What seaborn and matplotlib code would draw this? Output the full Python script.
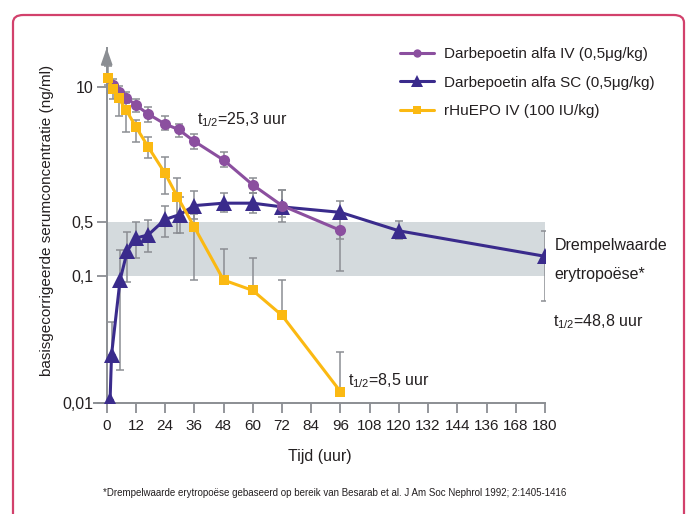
import numpy as np
import matplotlib
matplotlib.use("Agg")
import matplotlib.pyplot as plt
from matplotlib.patches import FancyBboxPatch
import seaborn as sns

sns.set_style("white")
plt.rcParams["font.family"] = ["Liberation Sans", "DejaVu Sans"]
plt.rcParams["mathtext.fontset"] = "custom"
plt.rcParams["mathtext.rm"] = "Liberation Sans"
plt.rcParams["mathtext.default"] = "regular"

# -----------------------------------------------------------
# data (ng/ml)
# -----------------------------------------------------------
t_iv = [2.5, 5, 8, 12, 17, 24, 29.5, 36, 48, 60, 72, 96]
c_iv = [10.4, 9.0, 7.9, 6.7, 5.5, 4.4, 3.9, 3.0, 1.98, 1.14, 0.72, 0.39]
lo_iv = [9.15, 8.0, 7.0, 5.74, 4.63, 3.86, 3.32, 2.52, 1.71, 0.95, 0.56, 0.116]
hi_iv = [11.9, 10.2, 8.95, 7.66, 6.46, 5.26, 4.37, 3.52, 2.35, 1.34, 1.02, 0.39]

t_sc = [1.4, 2, 5.5, 8.5, 12, 17, 24, 30, 36, 48, 60, 72, 96, 120, 180]
c_sc = [0.0106, 0.024, 0.093, 0.213, 0.31, 0.34, 0.53, 0.59, 0.72, 0.76, 0.76, 0.70, 0.62, 0.385, 0.18]
lo_sc = [0.0106, 0.024, 0.0182, 0.090, 0.169, 0.207, 0.317, 0.357, 0.53, 0.63, 0.61, 0.50, 0.30, 0.30, 0.0635]
hi_sc = [0.0106, 0.0435, 0.217, 0.374, 0.495, 0.52, 0.72, 0.87, 1.0, 0.95, 0.95, 1.02, 0.80, 0.515, 0.38]

t_epo = [0.5, 2.5, 5, 8, 12, 17, 24, 29, 36, 48, 60, 72, 96]
c_epo = [12.3, 9.5, 7.8, 6.0, 4.14, 2.66, 1.47, 0.88, 0.43, 0.093, 0.077, 0.049, 0.0123]
lo_epo = [10.5, 7.6, 5.26, 3.71, 2.97, 2.06, 0.925, 0.357, 0.093, 0.093, 0.077, 0.049, 0.0123]
hi_epo = [15.9, 11.2, 9.0, 7.0, 4.81, 3.32, 2.10, 1.34, 0.6, 0.222, 0.169, 0.093, 0.0254]

labels = ["Darbepoetin alfa IV (0,5\u03bcg/kg)",
          "Darbepoetin alfa SC (0,5\u03bcg/kg)",
          "rHuEPO IV (100 IU/kg)"]

band = (0.1, 0.5)  # drempelwaarde erytropoese
x_ticks = list(range(0, 181, 12))
x_ticklabels = ["0", "12", "24", "36", "48", "60", "72", "84", "96", "108",
                "120", "132", "144", "136", "168", "180"]
y_ticks = [0.01, 0.1, 0.5, 10]
y_ticklabels = ["0,01", "0,1", "0,5", "10"]

# -----------------------------------------------------------
# broken log-like axis of the original (each segment its own stretch)
# -----------------------------------------------------------
KL = np.log10([0.01, 0.1, 0.5, 10])
KU = np.array([0.0, 127.0, 181.0, 316.0])


def fwd(v):
    L = np.log10(np.clip(np.asarray(v, dtype=float), 1e-9, None))
    u = np.interp(L, KL, KU)
    u = np.where(L > KL[-1], KU[-1] + (L - KL[-1]) * (KU[-1] - KU[-2]) / (KL[-1] - KL[-2]), u)
    u = np.where(L < KL[0], (L - KL[0]) * (KU[1] - KU[0]) / (KL[1] - KL[0]), u)
    return u


def inv(u):
    u = np.asarray(u, dtype=float)
    L = np.interp(u, KU, KL)
    L = np.where(u > KU[-1], KL[-1] + (u - KU[-1]) * (KL[-1] - KL[-2]) / (KU[-1] - KU[-2]), L)
    L = np.where(u < KU[0], KL[0] + u * (KL[1] - KL[0]) / (KU[1] - KU[0]), L)
    return 10 ** L


GRAY = "#8b8e93"
TXT = "#231f20"
C_IV = "#8b4f9f"
C_SC = "#3a2b8c"
C_EPO = "#fbb912"
FS = 11.5

fig = plt.figure(figsize=(6.89, 5.14), dpi=100)
ax = fig.add_axes([94.5 / 689, 1 - 403 / 514, 450.5 / 689, 355 / 514])
ax.set_yscale("function", functions=(fwd, inv))

ax.fill_between([0, 180], band[0], band[1], color="#d4dadd", lw=0, zorder=1)


def errs(c, lo, hi):
    c = np.array(c)
    return [c - np.array(lo), np.array(hi) - c]


for t, c, lo, hi in [(t_sc, c_sc, lo_sc, hi_sc), (t_iv, c_iv, lo_iv, hi_iv),
                     (t_epo, c_epo, lo_epo, hi_epo)]:
    ax.errorbar(t, c, yerr=errs(c, lo, hi), fmt="none", ecolor=GRAY,
                elinewidth=1.1, capsize=3, capthick=1.1, zorder=2)

sns.lineplot(x=t_sc, y=c_sc, ax=ax, color=C_SC, lw=2.2, marker="^", markersize=11,
             markeredgewidth=0, estimator=None, sort=False, label=labels[1], zorder=3)
sns.lineplot(x=t_iv, y=c_iv, ax=ax, color=C_IV, lw=2.2, marker="o", markersize=8,
             markeredgewidth=0, estimator=None, sort=False, label=labels[0], zorder=4)
sns.lineplot(x=t_epo, y=c_epo, ax=ax, color=C_EPO, lw=2.2, marker="s", markersize=7,
             markeredgewidth=0, estimator=None, sort=False, label=labels[2], zorder=5)

ax.set_xlim(-5, 180)
ax.set_ylim(0.01, 23.8)
ax.set_xticks(x_ticks)
ax.set_xticklabels(x_ticklabels)
ax.set_yticks(y_ticks)
ax.set_yticklabels(y_ticklabels)
ax.minorticks_off()
ax.tick_params(axis="both", colors=GRAY, labelcolor=TXT, labelsize=FS,
               length=7.5, width=1.3, direction="out", left=True, bottom=True)
ax.tick_params(axis="x", pad=4, labelsize=11)
ax.tick_params(axis="y", pad=2)

for s in ["top", "right"]:
    ax.spines[s].set_visible(False)
ax.spines["left"].set_position(("data", 0))
for s in ["left", "bottom"]:
    ax.spines[s].set_color(GRAY)
    ax.spines[s].set_linewidth(1.4)

ax.annotate("", xy=(0, 1.0), xycoords=ax.get_xaxis_transform(),
            xytext=(0, 0.96), textcoords=ax.get_xaxis_transform(),
            arrowprops=dict(arrowstyle="-|>,head_length=1.0,head_width=0.35",
                            color=GRAY, lw=1.4, mutation_scale=10,
                            shrinkA=0, shrinkB=0))

# annotations
ax.text(37, 4.8, "t$_{1/2}$=25,3 uur", fontsize=FS, color=TXT, va="center", ha="left")
ax.text(99, 0.0149, "t$_{1/2}$=8,5 uur", fontsize=FS, color=TXT, va="center", ha="left")
ax.text(184, 0.252, "Drempelwaarde", fontsize=FS, color=TXT, va="center", ha="left")
ax.text(184, 0.106, "erytropo\u00ebse*", fontsize=FS, color=TXT, va="center", ha="left")
ax.text(183.4, 0.0436, "t$_{1/2}$=48,8 uur", fontsize=FS, color=TXT, va="center", ha="left")

fig.text(320 / 689, 1 - 456 / 514, "Tijd (uur)", fontsize=FS, color=TXT, ha="center", va="center")
fig.text(47 / 689, 1 - 220 / 514, "basisgecorrigeerde serumconcentratie (ng/ml)",
         fontsize=11, color=TXT, rotation=90, ha="center", va="center")
fig.text(335 / 689, 1 - 493 / 514,
         "*Drempelwaarde erytropo\u00ebse gebaseerd op bereik van Besarab et al. "
         "J Am Soc Nephrol 1992; 2:1405-1416",
         fontsize=7, color=TXT, ha="center", va="center")

h, l = ax.get_legend_handles_labels()
order = [l.index(x) for x in labels]
ax.legend([h[i] for i in order], [l[i] for i in order], loc="upper left",
          bbox_to_anchor=(400 / 689, 1 - 47 / 514), bbox_transform=fig.transFigure,
          frameon=False, fontsize=11, handlelength=2.2, handletextpad=0.65,
          labelspacing=0.95, borderpad=0, borderaxespad=0, markerscale=0.75,
          labelcolor=TXT)

# rounded frame around the figure
frame = FancyBboxPatch((13 / 689, -0.1), 671 / 689, 1.1 - 15 / 514,
                       boxstyle="round,pad=0,rounding_size=0.015",
                       transform=fig.transFigure, fill=False,
                       edgecolor="#d2416c", lw=1.6, clip_on=False)
fig.patches.append(frame)

fig.savefig("out.png", dpi=100)
